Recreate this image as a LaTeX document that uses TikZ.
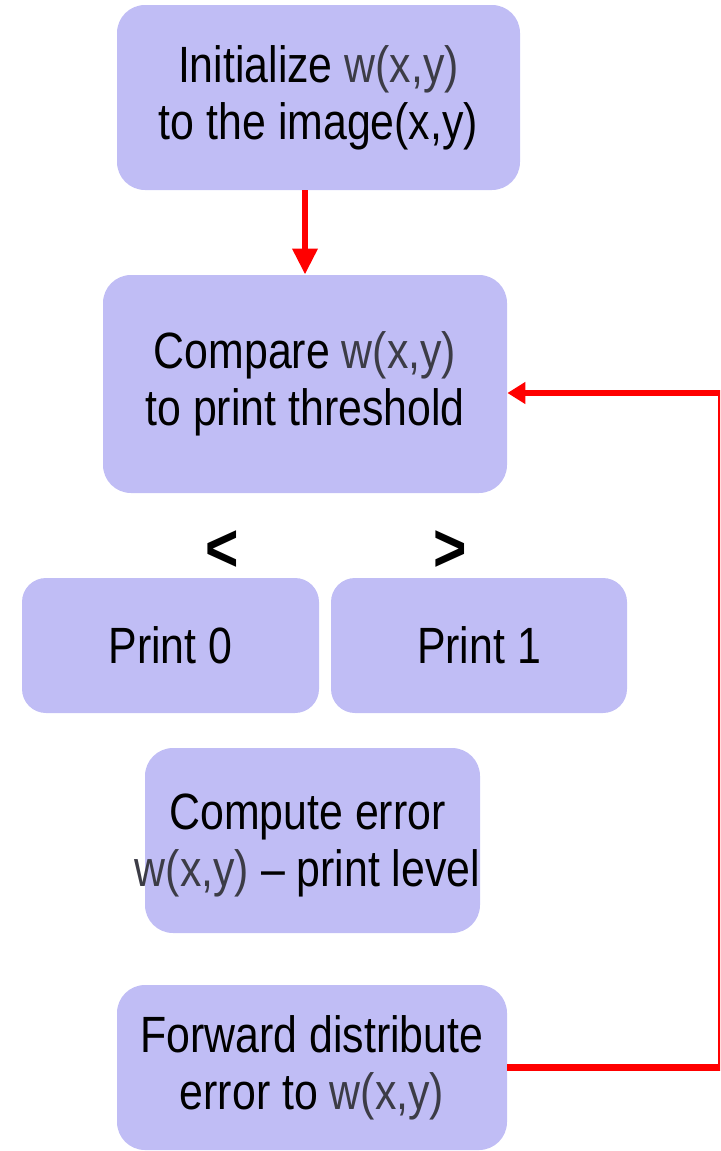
\documentclass[tikz,border=0pt]{standalone}
\usepackage{fontspec}
\setmainfont{Liberation Sans}[FakeStretch=0.84]
\usetikzlibrary{arrows.meta}
\definecolor{boxfill}{RGB}{192,189,245}
\definecolor{wgray}{RGB}{60,60,70}
\newcommand{\wxy}{{\color{wgray}w(x,y)}}
\tikzset{
  procbox/.style={draw=none, fill=boxfill, rounded corners=14pt, inner sep=0pt, align=center,
    font=\fontsize{25.5}{28.5}\selectfont},
  flow/.style={draw=red, line width=3.2pt},
  sign/.style={font=\bfseries\fontsize{34}{34}\selectfont, inner sep=0pt}
}
\begin{document}
\begin{tikzpicture}[x=0.5pt, y=-0.5pt]
\useasboundingbox (0,0) rectangle (720,1151);
\clip (0,0) rectangle (720,1151);
\node[procbox, minimum width=201.5pt, minimum height=92.5pt] (init) at (318.5,97.5)
  {Initialize \wxy\\to the image(x,y)};
\node[procbox, minimum width=202pt, minimum height=109pt] (cmp) at (305,384)
  {Compare \wxy\\to print threshold};
\node[sign] (lt) at (222,551) {<};
\node[sign] (gt) at (450,551) {>};
\node[procbox, rounded corners=12pt, minimum width=148.5pt, minimum height=67.5pt] (p0) at (170.5,645.5) {Print 0};
\node[procbox, rounded corners=12pt, minimum width=148pt, minimum height=67.5pt] (p1) at (479,645.5) {Print 1};
\node[procbox, minimum width=167.5pt, minimum height=92.5pt] (err) at (312.5,840.5) {};
\node[align=center, inner sep=0pt, font=\fontsize{25.5}{28.5}\selectfont] (errt) at (307.5,845)
  {Compute error\\\wxy{} -- print level};
\node[procbox, minimum width=195pt, minimum height=82.5pt] (fwd) at (312,1067.5)
  {Forward distribute\\error to \wxy};
\coordinate (rt) at (721,393);
\coordinate (cin) at (cmp.east |- rt);
\draw[flow, -{Triangle[length=13pt, width=12pt]}] (cmp.north |- init.south) -- (cmp.north);
\draw[flow, -{Triangle[length=9pt, width=10.5pt]}] (fwd.east) -| (rt) -- (cin);
\end{tikzpicture}
\end{document}
